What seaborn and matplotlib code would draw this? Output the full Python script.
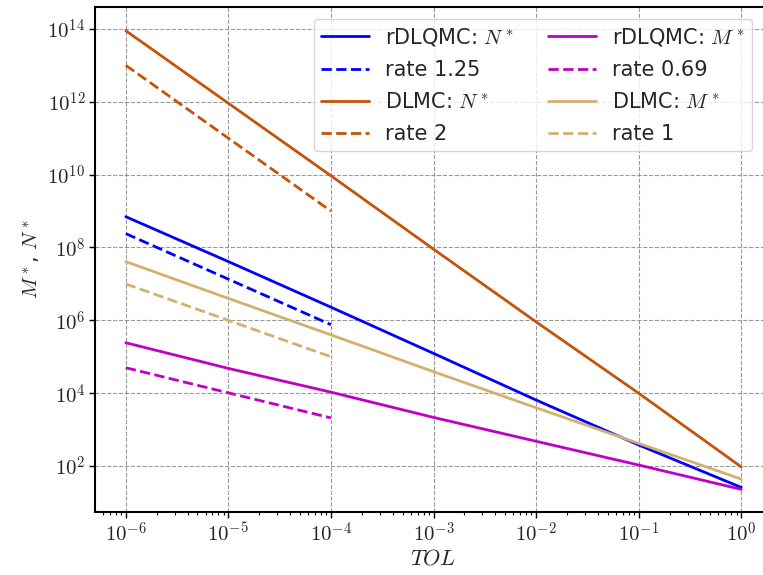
import numpy as np
import pandas as pd
import matplotlib
matplotlib.use("Agg")
import matplotlib.pyplot as plt
import matplotlib.ticker as mticker
import seaborn as sns

# ---- data ----
tol = [1e-6, 1e-5, 1e-4, 1e-3, 1e-2, 1e-1, 1e0]
rdlqmc_N = [7.0e8, 4.1e7, 2.3e6, 1.24e5, 6.5e3, 3.8e2, 26]
dlmc_N = [8.9e13, 9.1e11, 9.3e9, 9.0e7, 9.1e5, 1.0e4, 95]
rdlqmc_M = [2.43e5, 4.8e4, 1.07e4, 2.17e3, 4.8e2, 1.07e2, 23]
dlmc_M = [4.1e7, 4.0e6, 4.0e5, 3.9e4, 4.0e3, 4.2e2, 44]

ref_tol = [1e-6, 1e-4]
rate_125 = [2.4e8, 7.6e5]
rate_2 = [1.0e13, 1.0e9]
rate_069 = [5.0e4, 2.1e3]
rate_1 = [1.0e7, 1.0e5]

labels = [r"rDLQMC: $N^*$", "rate 1.25", r"DLMC: $N^*$", "rate 2",
          r"rDLQMC: $M^*$", "rate 0.69", r"DLMC: $M^*$", "rate 1"]

sns.set_theme(style="ticks")
plt.rcParams["font.family"] = ["DejaVu Sans"]
plt.rcParams["mathtext.fontset"] = "cm"

fig = plt.figure(figsize=(7.63, 5.75), dpi=100)
ax = fig.add_axes([95 / 763, 1 - 512 / 575, (772 - 95) / 763, (512 - 7) / 575])
ax.set_xscale("log")
ax.set_yscale("log")

blue = "#0000ff"
brown = "#c45408"
mag = "#c000c6"
tan = "#d4b070"
lw = 2.0

series = [
    (tol, rdlqmc_N, blue, "-"),
    (ref_tol, rate_125, blue, "--"),
    (tol, dlmc_N, brown, "-"),
    (ref_tol, rate_2, brown, "--"),
    (tol, rdlqmc_M, mag, "-"),
    (ref_tol, rate_069, mag, "--"),
    (tol, dlmc_M, tan, "-"),
    (ref_tol, rate_1, tan, "--"),
]
for (xs, ys, c, ls), lab in zip(series, labels):
    df = pd.DataFrame({"x": xs, "y": ys})
    sns.lineplot(data=df, x="x", y="y", ax=ax, color=c, linestyle=ls,
                 linewidth=lw, label=lab)

ax.set_xlabel(r"$TOL$", fontsize=16, labelpad=2)
ax.set_ylabel(r"$M^*$, $N^*$", fontsize=15)
fmt = mticker.FuncFormatter(lambda v, _: r"$10^{%d}$" % int(round(np.log10(v))))
ax.xaxis.set_major_formatter(fmt)
ax.yaxis.set_major_formatter(fmt)
ax.tick_params(axis="both", which="major", labelsize=15, length=4, width=1,
               color="black", pad=3)
ax.tick_params(axis="x", which="minor", length=2.5, width=0.8, color="black")
ax.xaxis.set_minor_locator(mticker.LogLocator(base=10, subs=np.arange(2, 10) * 1.0, numticks=50))
ax.xaxis.set_minor_formatter(mticker.NullFormatter())
ax.yaxis.set_minor_locator(mticker.NullLocator())
ax.yaxis.set_major_locator(mticker.LogLocator(base=100, numticks=20))
ax.set_xlim(10 ** -6.3, 10 ** 0.3)
ax.set_ylim(10 ** 0.74, 10 ** 14.6)
ax.grid(True, which="major", linestyle="--", color="gray", linewidth=0.8, alpha=0.8)
for s in ax.spines.values():
    s.set_color("black")
    s.set_linewidth(1.5)

leg = ax.legend(ncol=2, loc="upper right", fontsize=15, frameon=True,
                bbox_to_anchor=(0.9705, 0.977), borderaxespad=0.0,
                columnspacing=1.6, handlelength=2.3, labelspacing=0.58,
                borderpad=0.35, handletextpad=0.8)
leg.get_frame().set_edgecolor("#cccccc")

fig.savefig("out.png", dpi=100)
